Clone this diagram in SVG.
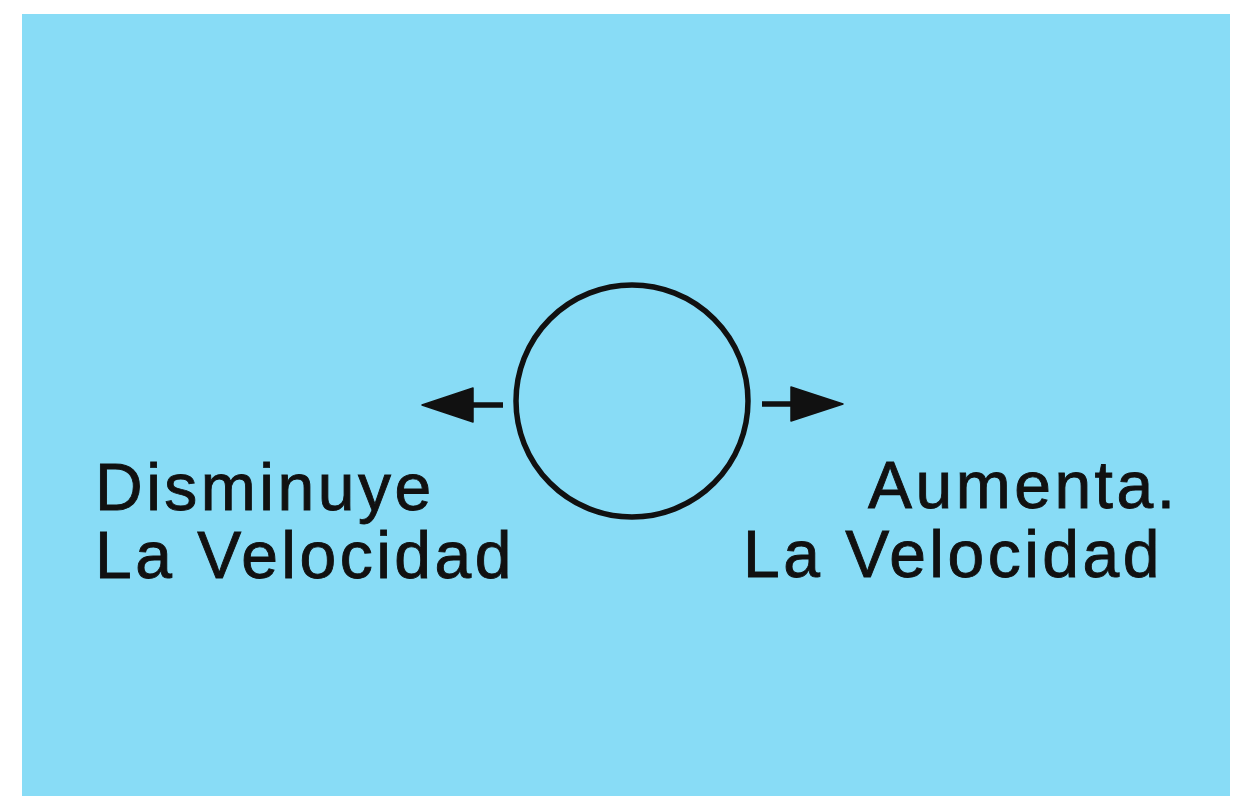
<svg xmlns="http://www.w3.org/2000/svg" width="1236" height="796" viewBox="0 0 1236 796">
<style>
.lbl{font-family:"Liberation Sans",Arial,sans-serif;font-size:66px;letter-spacing:3.5px;fill:#111;stroke:#111;stroke-width:0.9}
.ln{stroke:#111;stroke-width:5.5;fill:none}
.hd{fill:#111;stroke:#111;stroke-width:1.5;stroke-linejoin:round}
</style>
<rect x="0" y="0" width="1236" height="796" fill="#ffffff"/>
<rect x="22" y="14" width="1208" height="782" fill="#88dcf6"/>
<g id="node-circle">
<circle cx="632" cy="401" r="116" class="ln"/>
</g>
<g id="connectors">
<g id="arrow-left">
<line x1="503" y1="405" x2="470" y2="405" class="ln"/>
<polygon points="422,405 473,388 473,422" class="hd"/>
</g>
<g id="arrow-right">
<line x1="762" y1="404" x2="795" y2="404" class="ln"/>
<polygon points="843,404 791,387 791,421" class="hd"/>
</g>
</g>
<g id="label-left">
<text class="lbl" x="95" y="510">Disminuye</text>
<text class="lbl" x="95" y="578">La Velocidad</text>
</g>
<g id="label-right">
<text class="lbl" x="868" y="508">Aumenta.</text>
<text class="lbl" x="743" y="577">La Velocidad</text>
</g>
</svg>
